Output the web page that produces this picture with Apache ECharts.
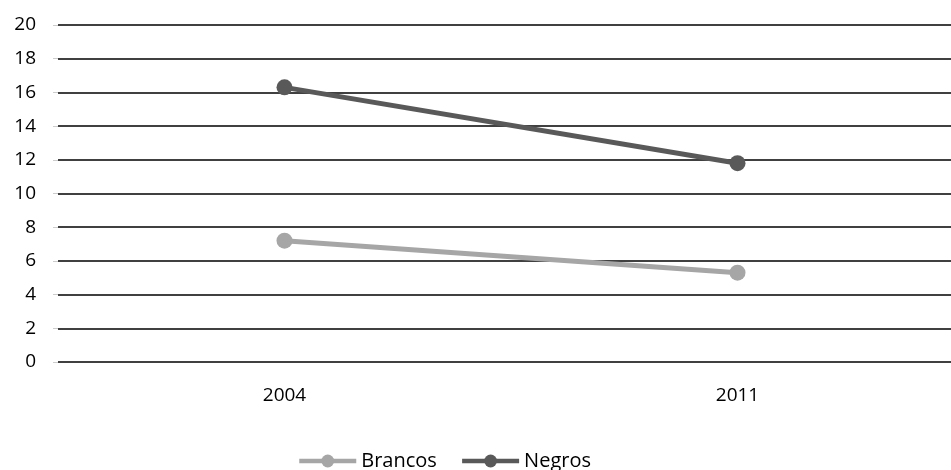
<!DOCTYPE html>
<html><head><meta charset="utf-8">
<script src="https://cdn.jsdelivr.net/npm/echarts@6/dist/echarts.min.js"></script>
<style>html,body{margin:0;padding:0;background:#fff}#c{width:951px;height:470px}</style>
</head><body><div id="c"></div>
<script>
const categories = ['2004', '2011'];
const brancos = [7.2, 5.3];
const negros = [16.3, 11.8];
const yTicks = { min: 0, max: 20, interval: 2 };

const chart = echarts.init(document.getElementById('c'));
const font = '"Open Sans", "Noto Sans", sans-serif';
chart.setOption({
  animation: false,
  textStyle: { fontFamily: font },
  grid: { left: 58, width: 906, top: 25, height: 337, outerBoundsMode: 'none', containLabel: false },
  legend: {
    top: 451, left: 297, padding: 0, itemWidth: 57, itemHeight: 16, itemGap: 23,
    lineStyle: { width: 4.5 },
    textStyle: { fontSize: 20, color: '#000', fontFamily: font },
    data: ['Brancos', 'Negros']
  },
  xAxis: {
    type: 'category', data: categories, boundaryGap: true,
    axisLine: { show: false }, axisTick: { show: false },
    axisLabel: { color: '#000', fontSize: 19, margin: 24, fontFamily: font }
  },
  yAxis: {
    type: 'value', min: yTicks.min, max: yTicks.max, interval: yTicks.interval,
    axisLine: { show: false },
    axisTick: { show: true, length: 5, lineStyle: { color: '#ccc' } },
    axisLabel: { color: '#000', fontSize: 19, margin: 22, fontFamily: font },
    splitLine: { lineStyle: { color: '#000', width: 1.5 } }
  },
  series: [
    { name: 'Brancos', type: 'line', data: brancos, symbol: 'circle', symbolSize: 16,
      lineStyle: { color: '#A6A6A6', width: 5 }, itemStyle: { color: '#A6A6A6' } },
    { name: 'Negros', type: 'line', data: negros, symbol: 'circle', symbolSize: 16,
      lineStyle: { color: '#595959', width: 5 }, itemStyle: { color: '#595959' } }
  ]
});
</script></body></html>
